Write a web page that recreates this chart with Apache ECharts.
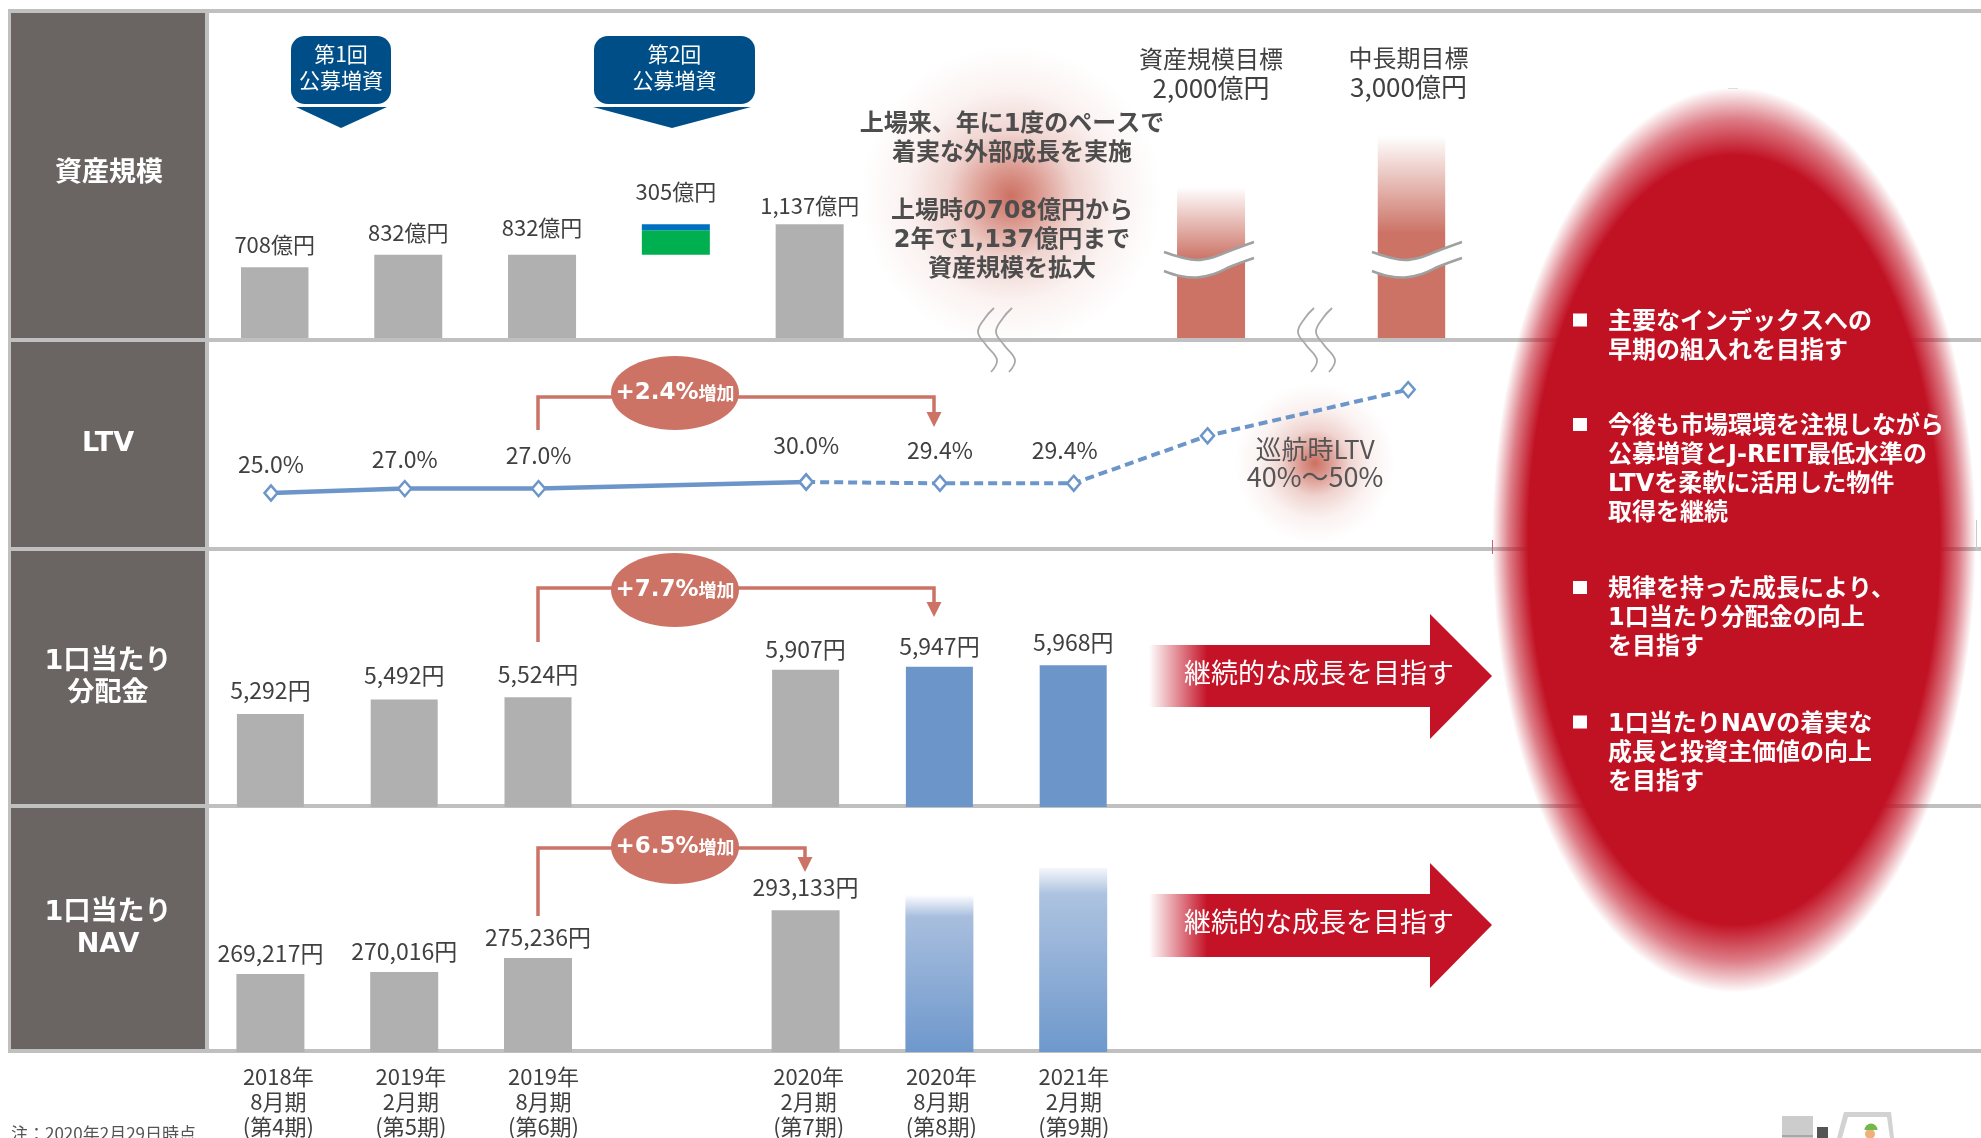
<!DOCTYPE html>
<html lang="ja">
<head>
<meta charset="utf-8">
<title>資産規模・LTV・分配金・NAVの推移</title>
<script src="https://cdn.jsdelivr.net/npm/echarts@6/dist/echarts.min.js"></script>
<style>
  html, body { margin: 0; padding: 0; background: #fff; overflow: hidden; }
  #chart { width: 1981px; height: 1138px; }
</style>
</head>
<body>
<div id="chart"></div>
<script>
// 決算期
const periods = ['2018年\n8月期\n(第4期)', '2019年\n2月期\n(第5期)', '2019年\n8月期\n(第6期)', '', '2020年\n2月期\n(第7期)', '2020年\n8月期\n(第8期)', '2021年\n2月期\n(第9期)'];

// 資産規模（億円）：横軸は半期幅の半分を1目盛とする
const assetTicks = ['第4期', '', '第5期', '', '第6期', '', '増資', '', '第7期', '', '', '', '', '', '資産規模目標', '', '', '中長期目標'];
const assetSlots = [0, 2, 4, 8];
const assetValues = [708, 832, 832, 1137];
const offeringSlot = 6;
const offeringBase = 832;
const offeringValue = 305;
const offeringBlue = 60;
const targetSlots = [14, 17];
const targetValues = [2000, 3000];
const targetTitles = ['資産規模目標', '中長期目標'];

// LTV（%）
const ltvSlots = [0, 1, 2, 4, 5, 6, 7, 8.5];
const ltvValues = [25.0, 27.0, 27.0, 30.0, 29.4, 29.4, 51, 72];
const ltvLabelled = 6;
const ltvActualCount = 4;

// 1口当たり分配金（円）
const dpuValues = [5292, 5492, 5524, null, 5907, 5947, 5968];
const dpuForecastFrom = 5;

// 1口当たりNAV（円）
const navValues = [269217, 270016, 275236, null, 293133, 299000, 309000];
const navLabelledCount = 5;

// 説明文
const rowTitles = ['資産規模', 'LTV', '1口当たり\n分配金', '1口当たり\nNAV'];
const bulletTexts = [
  '主要なインデックスへの\n早期の組入れを目指す',
  '今後も市場環境を注視しながら\n公募増資とJ-REIT最低水準の\nLTVを柔軟に活用した物件\n取得を継続',
  '規律を持った成長により、\n1口当たり分配金の向上\nを目指す',
  '1口当たりNAVの着実な\n成長と投資主価値の向上\nを目指す'
];

const FONT = '"Noto Sans CJK JP", sans-serif';
const WIDE = `"DejaVu Sans", ${FONT}`;
const GREY = '#b0b0b0';
const BLUE = '#6c96c9';
const SALMON = '#cc7366';
const RED = '#c11224';
const NAVY = '#004e87';
const LINE = '#c0c0c0';
const INK = '#404040';

const fmt = v => v.toLocaleString('en-US');

// ---- 装飾用のヘルパー ----
const rect = (x, y, width, height, fill, z = 0) => ({ type: 'rect', z, silent: true, shape: { x, y, width, height }, style: { fill } });
const poly = (points, fill, z = 10) => ({ type: 'polygon', z, silent: true, shape: { points }, style: { fill } });
const curve = (points, stroke, lineWidth, smooth = 0.4, z = 10) => ({
  type: 'polyline', z, silent: true, shape: { points, smooth }, style: { stroke, lineWidth, fill: 'none' }
});
const text = (x, y, str, size, fill, extra = {}) => ({
  type: 'text', z: 12, silent: true, x, y,
  style: Object.assign({ text: str, fill, font: `${extra.weight || 'normal'} ${size}px ${extra.family || FONT}`, align: 'center', verticalAlign: 'middle' }, extra.style || {})
});
const glow = (x, y, r, stops, scaleY = 1, z = 1) => ({
  type: 'circle', z, silent: true, x, y, scaleY, shape: { cx: 0, cy: 0, r },
  style: { fill: { type: 'radial', x: 0.5, y: 0.5, r: 0.5, colorStops: stops } }
});

const elements = [];

// 行の区切り線と左側の見出し
[[9, 4], [338, 4], [547, 4], [804, 4], [1049, 4]].forEach(([y, h]) => elements.push(rect(8, y, 1973, h, LINE)));
elements.push(rect(8, 9, 3, 1044, LINE), rect(205, 9, 4, 1044, LINE));
[[13, 325], [342, 205], [551, 253], [808, 241]].forEach(([y, h]) => {
  elements.push(rect(11, y, 194, h, '#6a6563', 1));
});
[[109, 171], [108, 444], [108, 678], [108, 929]].forEach(([x, y], i) => {
  elements.push(text(x, y, rowTitles[i], 27, '#fff', { weight: 'bold', family: i ? WIDE : FONT, style: { lineHeight: 32 } }));
});

// 背景のぼかし
const softStops = [
  { offset: 0, color: 'rgba(205,112,98,1)' },
  { offset: 0.18, color: 'rgba(205,112,98,0.72)' },
  { offset: 0.42, color: 'rgba(205,112,98,0.3)' },
  { offset: 0.7, color: 'rgba(205,112,98,0.09)' },
  { offset: 1, color: 'rgba(205,112,98,0)' }
];
elements.push(glow(1011, 196, 150, softStops), glow(1315, 463, 80, softStops));

// 右側の楕円
elements.push(glow(1734, 540, 242, [
  { offset: 0, color: 'rgba(193,18,36,1)' },
  { offset: 0.85, color: 'rgba(193,18,36,1)' },
  { offset: 0.93, color: 'rgba(193,18,36,0.55)' },
  { offset: 1, color: 'rgba(193,18,36,0)' }
], 1.87, 5));
elements.push(rect(1492, 540, 1, 14, '#c5616e', 5), rect(1976, 520, 1, 30, '#c9c9c9', 5), rect(1728, 88, 10, 1, '#dddddd', 5));

const bulletTops = [320, 424.5, 587.5, 722];
bulletTexts.forEach((t, i) => {
  elements.push(rect(1573, bulletTops[i] - 6.5, 14, 13, '#fff', 12));
  elements.push(text(1608, bulletTops[i] - 12, t, 24, '#fff', {
    weight: 'bold', family: WIDE, style: { align: 'left', verticalAlign: 'top', lineHeight: 29 }
  }));
});

// 公募増資の吹き出し
[[291, 100, 341, 296, 387, '第1回'], [594, 161, 672, 593, 751, '第2回']].forEach(([x, w, apex, l, r, label]) => {
  elements.push({ type: 'rect', z: 10, silent: true, shape: { x, y: 36, width: w, height: 68, r: 14 }, style: { fill: NAVY } });
  elements.push(poly([[l, 107], [r, 107], [apex, 128]], NAVY));
  elements.push(text(x + w / 2, 54, label, 21, '#fff'), text(x + w / 2, 80, '公募増資', 21, '#fff'));
});

// 目標値の棒の省略記号
[1164, 1372].forEach(x0 => {
  const upper = [[0, 252], [16, 257], [33, 260], [50, 257], [68, 250], [90, 242]].map(([x, y]) => [x0 + x, y]);
  const lower = [[0, 271], [16, 276], [33, 277.5], [50, 274], [68, 266], [90, 258]].map(([x, y]) => [x0 + x, y]);
  elements.push(poly(upper.concat(lower.slice().reverse()), '#fff', 9));
  elements.push(curve(upper, '#a0a0a0', 2.5), curve(lower, '#a0a0a0', 2.5));
});

// 行をまたぐ波線
[0, 320].forEach(dx => {
  [0, 18].forEach(gap => {
    const pts = [[994, 308], [985, 318], [978, 332], [986, 345], [997, 360], [991, 372]].map(([x, y]) => [x + dx + gap, y]);
    elements.push(curve(pts, '#a8a8a8', 1.8));
  });
});

// 増加率の矢印
[
  { y0: 430, y1: 397, x1: 934, head: 412, tip: 427, cy: 393, big: '+2.4%' },
  { y0: 642, y1: 588, x1: 934, head: 602, tip: 617, cy: 590, big: '+7.7%' },
  { y0: 916, y1: 848, x1: 805, head: 857, tip: 872, cy: 847, big: '+6.5%' }
].forEach(b => {
  elements.push({
    type: 'polyline', z: 8, silent: true,
    shape: { points: [[538, b.y0], [538, b.y1], [b.x1, b.y1], [b.x1, b.head]] },
    style: { stroke: SALMON, lineWidth: 3.5, fill: 'none' }
  });
  elements.push(poly([[b.x1 - 7.5, b.head], [b.x1 + 7.5, b.head], [b.x1, b.tip]], SALMON, 8));
  elements.push({ type: 'ellipse', z: 9, silent: true, shape: { cx: 675, cy: b.cy, rx: 64, ry: 37 }, style: { fill: SALMON } });
  elements.push({
    type: 'text', z: 12, silent: true, x: 675, y: b.cy,
    style: {
      text: `{big|${b.big}}{small|増加}`, align: 'center', verticalAlign: 'middle',
      rich: {
        big: { fill: '#fff', font: `bold 23px "DejaVu Sans", ${FONT}` },
        small: { fill: '#fff', font: `bold 18px ${FONT}` }
      }
    }
  });
});

// 成長を示す赤い矢印
[[645, 707, 614, 739, 676], [894, 957, 863, 988, 925]].forEach(([bt, bb, ht, hb, tipY]) => {
  elements.push({
    type: 'polygon', z: 8, silent: true,
    shape: { points: [[1149, bt], [1430, bt], [1430, ht], [1492, tipY], [1430, hb], [1430, bb], [1149, bb]] },
    style: {
      fill: {
        type: 'linear', x: 0, y: 0, x2: 1, y2: 0,
        colorStops: [
          { offset: 0, color: 'rgba(196,18,38,0)' },
          { offset: 0.17, color: 'rgba(196,18,38,1)' },
          { offset: 1, color: 'rgba(196,18,38,1)' }
        ]
      }
    }
  });
  elements.push(text(1319, tipY - 3, '継続的な成長を目指す', 27, '#fff'));
});

// 説明テキスト
[['上場来、年に1度のペースで', 125], ['着実な外部成長を実施', 154], ['上場時の708億円から', 212], ['2年で1,137億円まで', 241], ['資産規模を拡大', 270]]
  .forEach(([t, y]) => elements.push(text(1012, y, t, 24, '#4d4d4d', { weight: 'bold', family: WIDE })));
elements.push(text(1315, 449, '巡航時LTV', 26, '#555'), text(1315, 477, '40%～50%', 27, '#555'));
elements.push(text(11, 1134, '注：2020年2月29日時点', 17, '#555', { style: { align: 'left' } }));

// 右下のイラスト
elements.push(
  rect(1782, 1116, 31, 22, '#cccccc', 3), rect(1782, 1135, 31, 2, '#a8a8a8', 3), rect(1817, 1127, 11, 11, '#555555', 3),
  poly([[1844, 1112], [1891, 1112], [1894, 1138], [1837, 1138]], '#d2d2d2', 3),
  poly([[1848, 1117], [1887, 1117], [1890, 1138], [1842, 1138]], '#ffffff', 3),
  { type: 'circle', z: 4, silent: true, shape: { cx: 1870, cy: 1134, r: 5 }, style: { fill: '#f0b07c' } },
  { type: 'sector', z: 4, silent: true, shape: { cx: 1871, cy: 1130, r: 6.5, startAngle: Math.PI, endAngle: 2 * Math.PI }, style: { fill: '#72b84a' } }
);

// ---- データ系列 ----
const barLabel = (distance, formatter, fontSize = 22) => ({
  show: true, position: 'top', distance, formatter, color: INK, fontFamily: FONT, fontSize
});
// 指定した目盛だけ値を持つ系列データを作る
const onTicks = (slots, item) => assetTicks.map((_, tick) => {
  const i = slots.indexOf(tick);
  return i < 0 ? null : item(i);
});
const assetGaps = [12, 11, 16, 8];
const ltvGaps = [8, 9, 13, 16, 13, 13];
const ltvShift = [0, 0, 0, 0, 0, -9];
const dpuGaps = [12, 13, 12, 0, 9, 9, 12];
const navGaps = [9, 9, 9, 0, 12];
const ltvPoints = ltvSlots.map((s, i) => [s, ltvValues[i]]);
const ltvLabel = i => ({
  show: true, position: 'top', distance: ltvGaps[i], offset: [ltvShift[i], 0],
  formatter: `${ltvValues[i].toFixed(1)}%`, color: INK, fontFamily: FONT, fontSize: 23
});

const navGradient = (solidAt, topFill, midFill) => ({
  type: 'linear', x: 0, y: 0, x2: 0, y2: 1,
  colorStops: [
    { offset: 0, color: topFill },
    { offset: solidAt, color: midFill },
    { offset: 1, color: '#6e98cc' }
  ]
});

const assetSeries = (name, color, data) => ({
  name, type: 'bar', xAxisIndex: 0, yAxisIndex: 0, stack: 'assets', barWidth: 68, itemStyle: { color }, data
});

const series = [
  assetSeries('資産規模', GREY, onTicks(assetSlots, i => ({
    value: assetValues[i], label: barLabel(assetGaps[i], `${fmt(assetValues[i])}億円`)
  }))),
  assetSeries('取得前', 'rgba(0,0,0,0)', onTicks([offeringSlot], () => offeringBase)),
  assetSeries('第2回取得', '#00b050', onTicks([offeringSlot], () => offeringValue - offeringBlue)),
  assetSeries('第2回取得（上部）', '#0070c0', onTicks([offeringSlot], () => ({
    value: offeringBlue, label: barLabel(22, `${fmt(offeringValue)}億円`)
  }))),
  assetSeries('目標', {
    type: 'linear', x: 0, y: 0, x2: 0, y2: 1,
    colorStops: [{ offset: 0, color: 'rgba(204,115,102,0)' }, { offset: 0.48, color: SALMON }, { offset: 1, color: SALMON }]
  }, onTicks(targetSlots, i => ({
    value: targetValues[i],
    label: {
      show: true, position: 'top', distance: [84, 34][i], offset: [[0, -3][i], 0],
      formatter: `{t|${targetTitles[i]}}\n{v|${fmt(targetValues[i])}億円}`,
      rich: {
        t: { color: INK, fontFamily: FONT, fontSize: 24, lineHeight: 29 },
        v: { color: INK, fontFamily: FONT, fontSize: 26, lineHeight: 30 }
      }
    }
  }))),
  {
    name: 'LTV実績', type: 'line', xAxisIndex: 1, yAxisIndex: 1, z: 4,
    symbol: 'diamond', symbolSize: [13, 15], showAllSymbol: true,
    lineStyle: { color: BLUE, width: 4.5 },
    itemStyle: { color: '#fff', borderColor: BLUE, borderWidth: 2.5 },
    data: ltvPoints.slice(0, ltvActualCount).map((p, i) => ({ value: p, label: ltvLabel(i) }))
  },
  {
    name: 'LTV見込み', type: 'line', xAxisIndex: 1, yAxisIndex: 1, z: 3,
    symbol: 'diamond', symbolSize: [13, 15], showAllSymbol: true,
    lineStyle: { color: BLUE, width: 4, type: [9, 5] },
    itemStyle: { color: '#fff', borderColor: BLUE, borderWidth: 2.5 },
    data: ltvPoints.slice(ltvActualCount - 1).map((p, j) => {
      const i = j + ltvActualCount - 1;
      return i < ltvLabelled && i >= ltvActualCount ? { value: p, label: ltvLabel(i) } : { value: p };
    })
  },
  {
    name: '1口当たり分配金', type: 'bar', xAxisIndex: 2, yAxisIndex: 2, barWidth: 67,
    data: dpuValues.map((v, i) => ({
      value: v,
      itemStyle: { color: i >= dpuForecastFrom ? BLUE : GREY },
      label: barLabel(dpuGaps[i], p => `${fmt(p.value)}円`, 23)
    }))
  },
  {
    name: '1口当たりNAV', type: 'bar', xAxisIndex: 3, yAxisIndex: 3, barWidth: 68,
    data: navValues.map((v, i) => i < navLabelledCount
      ? { value: v, itemStyle: { color: GREY }, label: barLabel(navGaps[i], p => `${fmt(p.value)}円`, 23) }
      : { value: v, itemStyle: { color: navGradient(0.14, i === 5 ? '#ffffff' : '#f4f7fb', i === 5 ? '#a8bede' : '#adc3e0') } })
  }
];

const hiddenValueAxis = (gridIndex, min, max, extra = {}) => Object.assign({ type: 'value', gridIndex, min, max, show: false, splitLine: { show: false } }, extra);
const hiddenCategoryAxis = (gridIndex, data) => ({ type: 'category', gridIndex, data, show: false });

const option = {
  animation: false,
  backgroundColor: '#fff',
  textStyle: { fontFamily: FONT },
  grid: [
    { left: 241, top: 13, width: 1204.2, height: 325 },
    { left: 204.1, top: 328, width: 1271, height: 220 },
    { left: 203.5, top: 555, width: 936.6, height: 252 },
    { left: 203.5, top: 812, width: 936.6, height: 240 },
    { left: 212, top: 1053, width: 928.2, height: 1 }
  ],
  xAxis: [
    hiddenCategoryAxis(0, assetTicks),
    { type: 'value', gridIndex: 1, min: -0.5, max: 9, show: false, splitLine: { show: false } },
    hiddenCategoryAxis(2, periods),
    hiddenCategoryAxis(3, periods),
    {
      type: 'category', gridIndex: 4, data: periods,
      axisLine: { show: false }, axisTick: { show: false },
      axisLabel: { show: true, interval: 0, margin: 11, color: INK, fontFamily: FONT, fontSize: 22, lineHeight: 25 }
    }
  ],
  yAxis: [
    hiddenValueAxis(0, 0, 4230, {
      breaks: [{ start: 1200, end: 1690, gap: 0 }, { start: 2100, end: 2590, gap: 0 }],
      breakArea: { show: false }
    }),
    hiddenValueAxis(1, 0, 100),
    hiddenValueAxis(2, 4000, 7500),
    hiddenValueAxis(3, 240000, 330000),
    hiddenValueAxis(4, 0, 1)
  ],
  graphic: { elements },
  series
};

const chart = echarts.init(document.getElementById('chart'), null, { renderer: 'canvas', width: 1981, height: 1138 });
chart.setOption(option);
</script>
</body>
</html>
